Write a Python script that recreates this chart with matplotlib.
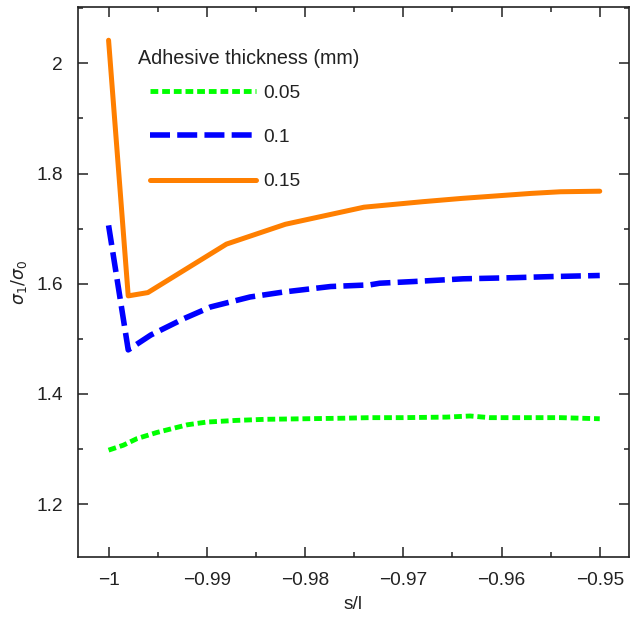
import matplotlib
matplotlib.use('Agg')
import matplotlib.pyplot as plt
from matplotlib.ticker import MultipleLocator, FuncFormatter

plt.rcParams['font.family'] = ['Liberation Sans', 'DejaVu Sans']
plt.rcParams['mathtext.fontset'] = 'dejavusans'

# thickness 0.05 mm
x_005 = [-1.0, -0.9985, -0.9971, -0.9951, -0.992, -0.990, -0.987, -0.984,
         -0.980, -0.976, -0.9734, -0.970, -0.9656, -0.9632, -0.9612, -0.958,
         -0.954, -0.950]
y_005 = [1.298, 1.307, 1.319, 1.330, 1.344, 1.349, 1.352, 1.354,
         1.355, 1.356, 1.357, 1.357, 1.358, 1.360, 1.357, 1.357,
         1.357, 1.355]

# thickness 0.1 mm
x_01 = [-1.0, -0.998, -0.9957, -0.9923, -0.9896, -0.9856, -0.9822, -0.9774,
        -0.9734, -0.9724, -0.969, -0.9639, -0.9588, -0.955, -0.950]
y_01 = [1.706, 1.480, 1.507, 1.537, 1.558, 1.576, 1.585, 1.595,
        1.598, 1.601, 1.604, 1.609, 1.611, 1.613, 1.615]

# thickness 0.15 mm
x_015 = [-1.0, -0.998, -0.996, -0.988, -0.982, -0.974, -0.968, -0.964,
         -0.957, -0.954, -0.950]
y_015 = [2.042, 1.578, 1.584, 1.672, 1.708, 1.739, 1.749, 1.755,
         1.764, 1.767, 1.768]

labels = ['0.05', '0.1', '0.15']

FS = 13.8

fig = plt.figure(figsize=(6.30, 6.17), dpi=100)
ax = fig.add_axes([0.124, 0.097, 0.874, 0.891])

ax.plot(x_005, y_005, color='#00ff00', lw=3.5, linestyle=(0, (1.6, 0.8)),
        label=labels[0])
ax.plot(x_01, y_01, color='#0000ff', lw=4.0, linestyle=(0, (3.6, 1.3)),
        label=labels[1])
ax.plot(x_015, y_015, color='#ff7f00', lw=3.6, solid_capstyle='round',
        label=labels[2])

ax.set_xlim(-1.0031, -0.94705)
ax.set_ylim(1.1038, 2.1016)

ax.xaxis.set_major_locator(MultipleLocator(0.01))
ax.xaxis.set_minor_locator(MultipleLocator(0.005))
ax.yaxis.set_major_locator(MultipleLocator(0.2))
ax.yaxis.set_minor_locator(MultipleLocator(0.1))

fmt = FuncFormatter(lambda v, p: ('%g' % round(v, 4)).replace('-', '\u2212'))
ax.xaxis.set_major_formatter(fmt)
ax.yaxis.set_major_formatter(fmt)

ax.tick_params(which='both', direction='in', top=True, right=True,
               width=1.1, labelsize=FS, colors='#222222')
ax.tick_params(which='major', length=7, pad=11)
ax.tick_params(which='minor', length=3.5)
for s in ax.spines.values():
    s.set_linewidth(1.2)
    s.set_color('#222222')

ax.set_xlabel('s/l', fontsize=FS, color='#222222', labelpad=5)
ax.set_ylabel(r'$\sigma_1/\sigma_0$', fontsize=12.5, color='#222222', labelpad=5)

# legend title sits a bit left of the entries
ax.text(0.109, 0.907, 'Adhesive thickness (mm)', transform=ax.transAxes,
        fontsize=14.2, color='#222222', ha='left', va='center')
leg = ax.legend(frameon=False, fontsize=FS, loc='upper left',
                bbox_to_anchor=(0.1307, 0.860), handlelength=5.5,
                handletextpad=0.42, labelspacing=1.4, borderaxespad=0,
                borderpad=0)
for t in leg.get_texts():
    t.set_color('#222222')

fig.savefig('out.png', dpi=100)
